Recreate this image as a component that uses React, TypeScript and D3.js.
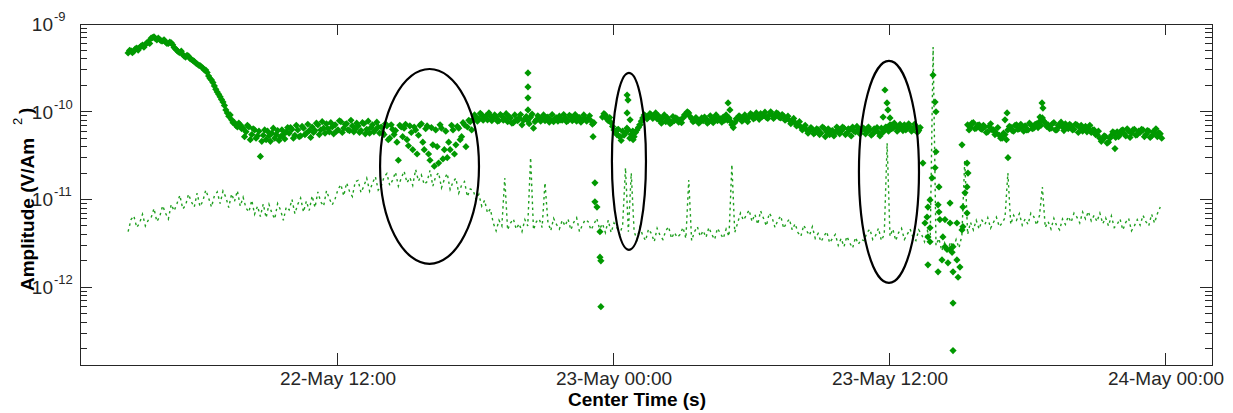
import React from 'react';
import * as d3 from 'd3';

// Time origin: 22-May 00:00 (UTC); positions in hours are measured from it.
const BASE_MS = Date.UTC(2012, 4, 22, 0, 0);
const HOUR_MS = 3600e3;
const toDate = (h: number) => new Date(BASE_MS + h * HOUR_MS);

// Regular sampling of both series: first sample and step, in hours.
// The second diamond track is sampled half a step later.
const SAMPLE_START_H = 2.875;
const SAMPLE_STEP_H = 0.125;

// Amplitudes below are given in units of 1e-12 V/Am^2.
const AMP_UNIT = 1e-12;

const X_DOMAIN_H = [0.783, 50];
const Y_DOMAIN = [1.3e-13, 1e-9];

// Diamond series, track A (null = no sample).
const DIAMOND_SERIES_A: (number | null)[] = [
  468, 495, 490, 530, 540, 575, 580, 625,
  690, 715, 660, 665, 640, 625, 600, 610,
  540, 500, 470, 450, 420, 430, 395, 375,
  350, 335, 315, 299, 255, 230, 197, 168,
  148, 129, 105, 89, 81, 75, 67, 71,
  65, 59, 67, 55, 62, 53, 31, 54,
  48, 53, 57, 50, 61, 52, 55, 59,
  57, 63, 54, 62, 53, 65, 57, 61,
  67, 61, 71, 62, 65, 73, 59, 67,
  71, 62, 77, 65, 73, 61, 69, 63,
  69, 61, 73, 63, 57, 71, 62, 67,
  67, 55, 69, 50, 63, 61, 28, 67,
  65, 48, 69, 37, 62, 54, 73, 37,
  69, 28, 42, 62, 26, 65, 37, 30,
  37, 62, 42, 65, 52, 71, 67, 77,
  81, 87, 83, 92, 85, 81, 89, 85,
  87, 79, 89, 83, 77, 85, 75, 81,
  85, 71, 83, 79, 87, 65, 81, 85,
  83, 79, 87, 81, 77, 85, 89, 80,
  85, 79, 88, 82, 78, 86, 80, 84,
  83, 79, 75, null, null, 87, 92, 79,
  75, 62, 55, 52, 60, 57, 62, 55,
  52, 62, 71, 85, 90, 87, 92, 88,
  83, 79, 85, 77, 81, 75, 79, 83,
  81, 85, 92, 97, 83, 79, 81, 77,
  79, 83, 77, 81, 85, 79, 83, 87,
  92, 85, 71, 75, 83, 87, 81, 85,
  87, 92, 85, 89, 95, 90, 86, 92,
  92, 88, 95, 85, 89, 83, 80, 77,
  75, 71, 67, 65, 62, 60, 63, 58,
  62, 57, 65, 59, 55, 61, 58, 63,
  60, 65, 57, 62, 67, 59, 63, 61,
  64, 59, 62, 56, 60, 58, 65, 61,
  67, 71, 65, 69, 63, 67, 71, 65,
  67, 63, 69, 61, null, null, null, null,
  null, null, null, null, null, null, null, null,
  null, null, null, null, 71, 67, 75, 65,
  71, 63, 67, 59, 73, 62, 57, 54,
  50, 55, 62, 67, 60, 71, 64, 68,
  69, 62, 71, 65, 73, 77, 85, 75,
  71, 65, 75, 62, 69, 67, 73, 64,
  69, 63, 71, 66, 60, 68, 64, 58,
  62, 55, 50, 48, 52, 45, 54, 57,
  59, 55, 62, 53, 60, 57, 63, 55,
  58, 62, 55, 60, 53, 57, 52, 56,
];

// Diamond series, track B (half a step after track A).
const DIAMOND_SERIES_B: (number | null)[] = [
  500, 470, 520, 505, 560, 545, 610, 600,
  700, 680, 690, 640, 660, 600, 620, 580,
  520, 480, 490, 430, 440, 405, 385, 360,
  340, 325, 300, 280, 240, 215, 180, 158,
  138, 118, 97, 92, 75, 70, 74, 64,
  52, 70, 48, 64, 50, 60, 46, 62,
  60, 46, 65, 55, 47, 62, 49, 66,
  66, 50, 70, 52, 68, 55, 72, 51,
  58, 74, 55, 77, 57, 64, 75, 56,
  60, 79, 58, 72, 62, 80, 59, 74,
  58, 75, 56, 78, 66, 59, 76, 57,
  58, 73, 48, 71, 55, 45, 70, 52,
  72, 41, 58, 67, 33, 70, 45, 64,
  33, 66, 24, 40, 71, 29, 60, 45,
  70, 33, 68, 48, 75, 40, 80, 62,
  92, 78, 96, 80, 90, 97, 79, 92,
  78, 93, 80, 95, 88, 74, 92, 79,
  93, 80, 88, 73, 94, 77, 90, 78,
  92, 86, 76, 93, 84, 78, 81, 93,
  77, 91, 79, 93, 86, 76, 92, 78,
  90, 72, null, null, null, 95, 83, 86,
  68, 58, 63, 47, 54, 65, 50, 60,
  58, 66, 78, 92, 83, 95, 84, 97,
  90, 74, 92, 86, 73, 88, 85, 76,
  75, 92, 100, 88, 77, 86, 74, 85,
  87, 74, 90, 75, 92, 84, 76, 80,
  80, 78, 66, 83, 90, 78, 92, 77,
  95, 83, 97, 82, 88, 99, 84, 100,
  84, 97, 86, 93, 80, 89, 73, 84,
  69, 77, 62, 70, 57, 66, 56, 64,
  55, 67, 52, 64, 60, 53, 67, 56,
  67, 55, 64, 53, 60, 68, 56, 66,
  56, 67, 54, 64, 66, 53, 58, 67,
  60, 64, 74, 60, 72, 61, 62, 73,
  60, 72, 58, 66, null, null, null, null,
  null, null, null, null, null, null, null, null,
  null, null, null, null, 62, 74, 64, 70,
  64, 70, 58, 68, 62, 55, 66, 50,
  57, 48, 68, 61, 70, 63, 72, 60,
  62, 74, 64, 72, 66, 70, 78, 68,
  64, 73, 62, 70, 76, 61, 66, 72,
  62, 72, 58, 70, 65, 59, 70, 62,
  55, 60, 46, 53, 44, 50, 59, 51,
  52, 61, 56, 64, 51, 62, 54, 60,
  63, 52, 61, 51, 59, 64, 58, 50,
];

// Diamond series: irregular bursts and outliers (hours, amplitude).
const BURST_HOURS = [
  20.26, 20.26, 20.26, 20.26,
  23.09, 23.17, 23.17, 23.26, 23.39, 23.39, 23.43, 23.43,
  24.57, 24.61, 24.57, 24.70, 24.83, 24.83, 25.13, 24.26, 24.13,
  28.96, 29.04,
  35.78, 35.87, 35.91, 35.70, 36.0, 36.09,
  37.43, 37.87, 37.96, 38.0, 38.0, 37.96, 37.83, 37.74, 37.65, 37.61, 37.52,
  37.74, 37.65, 37.74, 37.65, 38.13, 38.09, 38.13, 38.17, 38.39, 38.61,
  38.30, 38.39, 38.48, 38.61, 38.74, 38.70, 38.26, 38.09, 38.52, 38.74,
  38.91, 39.04, 38.96, 38.74, 38.74, 39.13, 39.35, 39.39, 39.35, 39.26,
  39.17, 39.35, 39.17, 39.13, 38.91, 38.61,
  41.13, 41.09, 41.0,
  42.61, 42.65, 42.52,
  45.78,
];
const BURST_VALUES = [
  277, 192, 144, 105,
  52, 15.5, 9.4, 8.2, 4.3, 2.2, 2.0, 0.6,
  155, 136, 97, 81, 59, 48, 71, 52, 62,
  126, 105,
  177, 126, 105, 87, 85, 71,
  26, 262, 129, 100, 35, 23, 17.6, 9.9, 8.2, 6.3, 5.4,
  4.75, 3.75, 3.3, 1.8, 13.9, 8.7, 7.2, 5.9, 5.9, 9.1,
  3.75, 2.9, 2.7, 2.7, 2.9, 2.5, 2.05, 1.5, 1.9, 1.5,
  2.05, 1.7, 1.3, 0.66, 0.19, 42, 26, 20, 13.9, 11.9,
  8.2, 7.0, 4.9, 4.5, 5.4, 5.4,
  30, 97, 81,
  126, 110, 87,
  38,
];

// Dotted series.
const DOTTED_SERIES: number[] = [
  4.3, 5.9, 6.5, 4.8, 5.4, 6.8, 5.0, 5.8,
  6.2, 7.9, 5.6, 6.4, 8.5, 7.0, 6.0, 8.8,
  7.4, 9.0, 11.2, 7.8, 8.6, 11.5, 9.4, 8.2,
  11.8, 8.3, 9.6, 12.8, 10.4, 8.2, 11.0, 12.2,
  9.0, 12.5, 10.6, 8.1, 11.6, 9.5, 12.6, 8.4,
  10.6, 8.0, 7.2, 9.8, 6.8, 8.4, 6.4, 8.9,
  6.2, 8.8, 7.0, 6.0, 9.0, 7.6, 5.8, 8.2,
  7.6, 10.0, 6.9, 8.8, 10.4, 7.2, 9.6, 7.5,
  11.0, 8.1, 12.2, 9.4, 8.4, 12.6, 10.2, 8.7,
  10.2, 13.0, 14.8, 11.0, 15.5, 12.4, 10.8, 16.0,
  16.5, 12.0, 14.2, 17.5, 12.4, 15.4, 18.2, 12.8,
  14.0, 18.0, 19.8, 14.5, 16.6, 20.5, 14.2, 17.5,
  21.0, 15.5, 17.8, 14.5, 22.0, 16.2, 19.0, 14.8,
  16.0, 21.5, 14.2, 18.4, 20.2, 13.6, 17.0, 19.8,
  13.0, 15.8, 17.5, 11.8, 14.6, 16.0, 10.8, 13.2,
  12.8, 10.0, 11.5, 8.4, 9.8, 7.0, 7.8, 5.4,
  4.4, 5.8, 5.0, 17.6, 4.5, 5.4, 6.0, 4.6,
  5.3, 4.3, 5.9, 5.0, 30, 4.5, 5.6, 6.0,
  4.8, 15.5, 5.6, 4.4, 6.1, 5.2, 4.6, 5.8,
  5.0, 6.0, 4.5, 5.5, 6.2, 4.3, 5.1, 5.9,
  5.6, 4.5, 5.2, 6.1, 4.6, 5.3, 4.2, 5.8,
  4.2, 5.4, 4.8, 4.0, 5.1, 23, 4.3, 20,
  4.3, 3.5, 4.8, 3.9, 3.4, 4.6, 4.1, 3.3,
  4.7, 3.9, 3.5, 4.4, 4.9, 3.6, 4.2, 3.7,
  4.0, 4.8, 3.6, 16.7, 3.4, 4.3, 4.9, 3.8,
  4.4, 3.7, 4.8, 4.0, 3.5, 4.7, 4.1, 3.6,
  4.6, 3.8, 25, 4.2, 5.4, 7.0, 5.8, 6.6,
  7.6, 5.6, 6.8, 5.2, 7.4, 6.1, 5.0, 7.0,
  6.2, 4.8, 5.8, 6.5, 4.7, 5.4, 6.0, 4.5,
  5.3, 4.2, 3.8, 5.1, 4.4, 3.9, 4.9, 3.6,
  4.1, 3.3, 3.8, 4.3, 3.2, 3.6, 4.0, 3.0,
  3.6, 2.9, 3.8, 3.2, 2.8, 3.7, 3.1, 3.5,
  3.4, 4.2, 4.6, 3.5, 3.9, 4.7, 3.4, 4.0,
  44, 3.8, 4.6, 3.4, 4.2, 4.7, 3.5, 4.0,
  4.6, 3.7, 3.4, 4.5, 4.0, 3.3, 4.4, 3.6,
  547, 3.0, 3.6, 2.6, 3.2, 2.5, 3.3, 2.8,
  3.5, 2.8, 3.9, 28, 4.0, 5.5, 4.5, 5.8,
  4.6, 5.8, 5.2, 6.2, 4.7, 5.5, 6.3, 4.9,
  5.4, 6.2, 20, 5.2, 6.6, 5.8, 6.9, 5.1,
  6.0, 5.2, 7.0, 6.4, 5.1, 6.6, 13.9, 4.8,
  5.6, 4.6, 6.1, 5.0, 4.5, 6.0, 5.2, 6.4,
  5.5, 7.0, 6.3, 5.4, 7.2, 6.0, 7.3, 5.7,
  6.6, 5.6, 7.0, 5.3, 6.2, 5.0, 6.5, 4.8,
  5.2, 6.0, 4.5, 5.5, 6.1, 4.4, 5.0, 5.9,
  5.1, 6.6, 5.6, 5.0, 6.8, 5.4, 6.9, 8.2,
];

// Highlighted events: time span (hours) and amplitude span (top, bottom).
const EVENT_HOURS = [[13.83, 18.13], [23.91, 25.39], [34.65, 37.26]];
const EVENT_AMPS = [[307, 1.85], [277, 2.67], [379, 1.12]];

const X_LABEL = 'Center Time (s)';
const Y_LABEL = 'Amplitude (V/Am';

const W = 1233;
const H = 413;
const M = { left: 80, right: 1212, top: 24, bottom: 365 };

const GREEN = '#009900';
const AXIS = '#262626';
const FONT = '"Liberation Sans", Arial, Helvetica, sans-serif';

type Pt = { d: Date; v: number };

export default function App() {
  const x = d3
    .scaleUtc()
    .domain([toDate(X_DOMAIN_H[0]), toDate(X_DOMAIN_H[1])])
    .range([M.left, M.right]);
  const y = d3.scaleLog().domain(Y_DOMAIN).range([M.bottom, M.top]);

  const sampleDate = (i: number, offset = 0) =>
    toDate(SAMPLE_START_H + (i + offset) * SAMPLE_STEP_H);

  const diamonds: Pt[] = [];
  DIAMOND_SERIES_A.forEach((v, i) => {
    if (v != null) diamonds.push({ d: sampleDate(i), v: v * AMP_UNIT });
  });
  DIAMOND_SERIES_B.forEach((v, i) => {
    if (v != null) diamonds.push({ d: sampleDate(i, 0.5), v: v * AMP_UNIT });
  });
  BURST_HOURS.forEach((h, i) => diamonds.push({ d: toDate(h), v: BURST_VALUES[i] * AMP_UNIT }));

  const dotted: Pt[] = DOTTED_SERIES.map((v, i) => ({ d: sampleDate(i), v: v * AMP_UNIT }));
  const line = d3
    .line<Pt>()
    .x((p) => x(p.d))
    .y((p) => y(p.v));

  const xTicks = d3.utcHour.every(12)!.range(toDate(X_DOMAIN_H[0]), toDate(X_DOMAIN_H[1]));
  const fmt = d3.utcFormat('%d-%b %H:%M');

  const lo = Math.floor(Math.log10(Y_DOMAIN[0]));
  const hi = Math.ceil(Math.log10(Y_DOMAIN[1]));
  const majors: number[] = [];
  const minors: number[] = [];
  for (let e = lo; e <= hi; e++) {
    const base = Math.pow(10, e);
    if (base >= Y_DOMAIN[0] * 0.999 && base <= Y_DOMAIN[1] * 1.001) majors.push(base);
    for (let k = 2; k <= 9; k++) {
      const v = k * base;
      if (v >= Y_DOMAIN[0] && v <= Y_DOMAIN[1]) minors.push(v);
    }
  }

  const diamondPath = 'M0,-3.6L3.6,0L0,3.6L-3.6,0Z';

  return (
    <svg
      width={W}
      height={H}
      style={{ position: 'absolute', left: 0, top: 0, background: '#fff' }}
      fontFamily={FONT}
    >
      <defs>
        <clipPath id="plot-clip">
          <rect x={M.left} y={M.top} width={M.right - M.left} height={M.bottom - M.top} />
        </clipPath>
      </defs>
      <rect x={0} y={0} width={W} height={H} fill="#fff" />

      <g clipPath="url(#plot-clip)">
        <path
          d={line(dotted) || ''}
          fill="none"
          stroke="#1f9f1f"
          strokeWidth={1.4}
          strokeDasharray="2.5 3.5"
        />
        {diamonds.map((p, i) => (
          <path key={i} d={diamondPath} transform={`translate(${x(p.d)},${y(p.v)})`} fill={GREEN} />
        ))}
        {EVENT_HOURS.map((hs, i) => {
          const x0 = x(toDate(hs[0]));
          const x1 = x(toDate(hs[1]));
          const y0 = y(EVENT_AMPS[i][0] * AMP_UNIT);
          const y1 = y(EVENT_AMPS[i][1] * AMP_UNIT);
          return (
            <ellipse
              key={i}
              cx={(x0 + x1) / 2}
              cy={(y0 + y1) / 2}
              rx={(x1 - x0) / 2}
              ry={(y1 - y0) / 2}
              fill="none"
              stroke="#000"
              strokeWidth={2.2}
            />
          );
        })}
      </g>

      {/* axes frame and ticks */}
      <g stroke={AXIS} strokeWidth={1} shapeRendering="crispEdges">
        <rect x={M.left} y={M.top} width={M.right - M.left} height={M.bottom - M.top} fill="none" />
        {xTicks.map((t, i) => (
          <g key={i}>
            <line x1={x(t)} x2={x(t)} y1={M.bottom} y2={M.bottom - 12} />
            <line x1={x(t)} x2={x(t)} y1={M.top} y2={M.top + 11} />
          </g>
        ))}
        {majors.map((v, i) => (
          <g key={i}>
            <line x1={M.left} x2={M.left + 12} y1={y(v)} y2={y(v)} />
            <line x1={M.right} x2={M.right - 12} y1={y(v)} y2={y(v)} />
          </g>
        ))}
        {minors.map((v, i) => (
          <g key={i}>
            <line x1={M.left} x2={M.left + 7} y1={y(v)} y2={y(v)} />
            <line x1={M.right} x2={M.right - 7} y1={y(v)} y2={y(v)} />
          </g>
        ))}
      </g>

      {/* x tick labels */}
      {xTicks.map((t, i) => (
        <text key={i} x={x(t)} y={385} textAnchor="middle" fontSize={19} fill={AXIS}>
          {fmt(t)}
        </text>
      ))}

      {/* y tick labels: 10 with exponent */}
      {majors.map((v, i) => (
        <g key={i} fill={AXIS}>
          <text x={53} y={y(v) + 7} textAnchor="end" fontSize={19}>
            10
          </text>
          <text x={54} y={y(v) - 3} fontSize={13}>
            {String(Math.round(Math.log10(v)))}
          </text>
        </g>
      ))}

      {/* axis titles */}
      <text x={637} y={406} textAnchor="middle" fontSize={19} fontWeight="bold" fill="#000">
        {X_LABEL}
      </text>
      <g transform="translate(34,291) rotate(-90)" fill="#000">
        <text x={0} y={0} fontSize={19} fontWeight="bold">
          {Y_LABEL}
        </text>
        <text x={166} y={-12} fontSize={13}>
          2
        </text>
        <text x={177} y={-2} fontSize={19} fontWeight="bold">
          )
        </text>
      </g>
    </svg>
  );
}
